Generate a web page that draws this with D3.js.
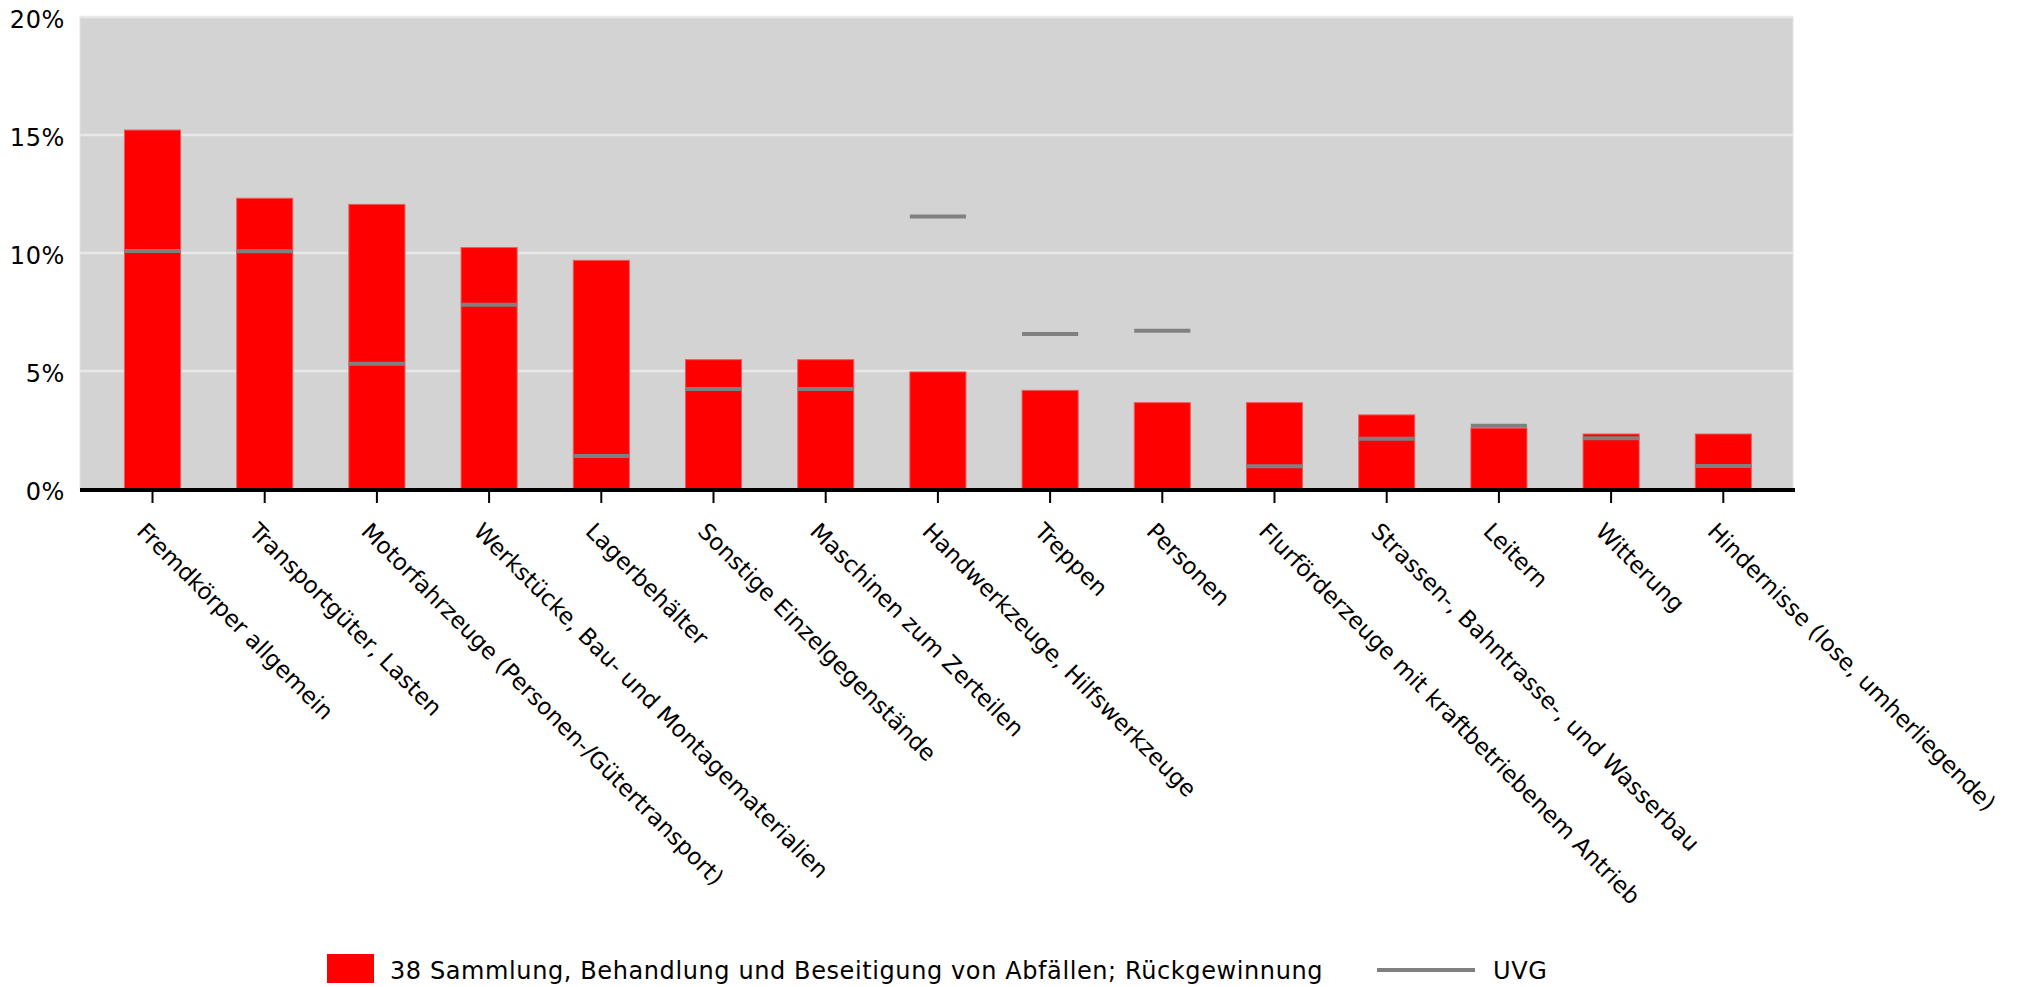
<!DOCTYPE html>
<html>
<head>
<meta charset="utf-8">
<script src="https://cdn.jsdelivr.net/npm/d3@7"></script>
<style>
  body { margin: 0; background: #ffffff; }
  svg text { font-family: "DejaVu Sans", Verdana, sans-serif; fill: #000; }
</style>
</head>
<body>
<div id="chart"></div>
<script>
const categories = [
    "Fremdkörper allgemein",
    "Transportgüter, Lasten",
    "Motorfahrzeuge (Personen-/Gütertransport)",
    "Werkstücke, Bau- und Montagematerialien",
    "Lagerbehälter",
    "Sonstige Einzelgegenstände",
    "Maschinen zum Zerteilen",
    "Handwerkzeuge, Hilfswerkzeuge",
    "Treppen",
    "Personen",
    "Flurförderzeuge mit kraftbetriebenem Antrieb",
    "Strassen-, Bahntrasse-, und Wasserbau",
    "Leitern",
    "Witterung",
    "Hindernisse (lose, umherliegende)"
];

// branche 38 (bars), in %
const branchValues = [15.21, 12.32, 12.06, 10.23, 9.69, 5.48, 5.48, 4.96, 4.18, 3.66, 3.66, 3.14, 2.58, 2.33, 2.33];
// UVG total (grey markers), in %
const uvgValues = [10.08, 10.07, 5.31, 7.81, 1.4, 4.24, 4.24, 11.55, 6.57, 6.71, 0.96, 2.13, 2.68, 2.15, 0.97];

const yTicks = [0, 5, 10, 15, 20];

const seriesName = "38 Sammlung, Behandlung und Beseitigung von Abfällen; Rückgewinnung";
const uvgName = "UVG";

const width = 2023;
const height = 987;

const plotLeft = 80;
const plotRight = 1793;
const plotTop = 17;
const plotBottom = 489;

const svg = d3.select("#chart").append("svg")
    .attr("width", width)
    .attr("height", height);

const x = d3.scaleBand()
    .domain(categories)
    .range([96.4, 1779.4])
    .paddingInner(0.5)
    .paddingOuter(0.25);

const y = d3.scaleLinear()
    .domain([0, 20])
    .range([plotBottom, plotTop]);

// plot background
svg.append("rect")
    .attr("x", plotLeft)
    .attr("y", plotTop)
    .attr("width", plotRight - plotLeft)
    .attr("height", plotBottom - plotTop)
    .attr("fill", "#d3d3d3")
    .attr("stroke", "#e2e2e2")
    .attr("stroke-width", 1);

// gridlines
svg.append("g")
    .selectAll("line")
    .data(yTicks.filter(d => d > 0))
    .enter()
    .append("line")
    .attr("x1", plotLeft)
    .attr("x2", plotRight)
    .attr("y1", d => y(d))
    .attr("y2", d => y(d))
    .attr("stroke", "#e8e8e8")
    .attr("stroke-width", 2.5);

// y labels
svg.append("g")
    .selectAll("text")
    .data(yTicks)
    .enter()
    .append("text")
    .attr("x", 65)
    .attr("y", d => y(d) + 3)
    .attr("dy", "0.35em")
    .attr("text-anchor", "end")
    .style("font-size", "24px")
    .style("letter-spacing", "0.6px")
    .text(d => d + "%");

// bars
svg.append("g")
    .selectAll("rect")
    .data(branchValues)
    .enter()
    .append("rect")
    .attr("x", (d, i) => x(categories[i]))
    .attr("y", d => y(d))
    .attr("width", x.bandwidth())
    .attr("height", d => plotBottom - y(d))
    .attr("fill", "#ff0000")
    .attr("stroke", "#f25a5a")
    .attr("stroke-width", 1);

// UVG markers
svg.append("g")
    .selectAll("line")
    .data(uvgValues)
    .enter()
    .append("line")
    .attr("x1", (d, i) => x(categories[i]))
    .attr("x2", (d, i) => x(categories[i]) + x.bandwidth())
    .attr("y1", d => y(d))
    .attr("y2", d => y(d))
    .attr("stroke", "#808080")
    .attr("stroke-width", 4);

// x axis
const xAxis = svg.append("g");

xAxis.append("line")
    .attr("x1", plotLeft)
    .attr("x2", plotRight + 2)
    .attr("y1", plotBottom + 1)
    .attr("y2", plotBottom + 1)
    .attr("stroke", "#000")
    .attr("stroke-width", 4);

const tick = xAxis.selectAll(".tick")
    .data(categories)
    .enter()
    .append("g")
    .attr("class", "tick")
    .attr("transform", d => "translate(" + (x(d) + x.bandwidth() / 2) + ",0)");

tick.append("line")
    .attr("y1", plotBottom)
    .attr("y2", plotBottom + 14)
    .attr("stroke", "#000")
    .attr("stroke-width", 2);

tick.append("text")
    .attr("transform", "translate(0," + (plotBottom + 14) + ") rotate(45)")
    .attr("x", 9)
    .attr("y", 33)
    .attr("text-anchor", "start")
    .style("font-size", "23px")
    .text(d => d);

// legend
const legend = svg.append("g");

legend.append("rect")
    .attr("x", 327)
    .attr("y", 954)
    .attr("width", 47)
    .attr("height", 29)
    .attr("fill", "#ff0000");

legend.append("text")
    .attr("x", 390)
    .attr("y", 979)
    .style("font-size", "24px")
    .style("letter-spacing", "0.6px")
    .text(seriesName);

legend.append("line")
    .attr("x1", 1377)
    .attr("x2", 1475)
    .attr("y1", 970)
    .attr("y2", 970)
    .attr("stroke", "#808080")
    .attr("stroke-width", 4);

legend.append("text")
    .attr("x", 1493)
    .attr("y", 979)
    .style("font-size", "24px")
    .style("letter-spacing", "0.6px")
    .text(uvgName);
</script>
</body>
</html>
